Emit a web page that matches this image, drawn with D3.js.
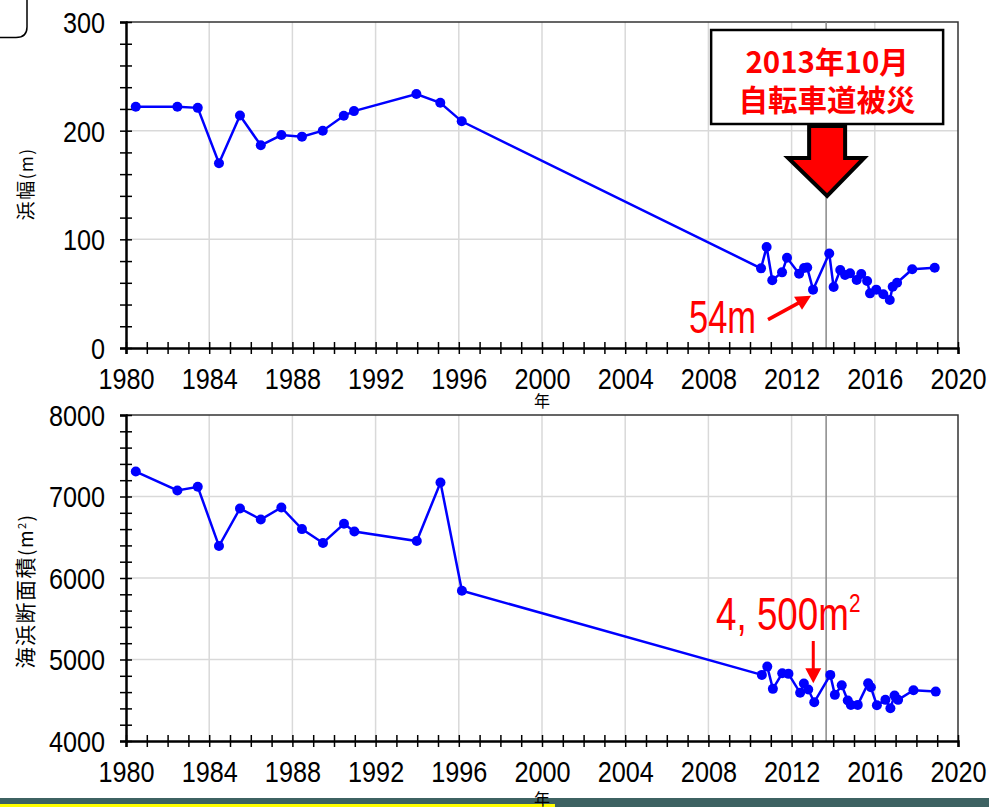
<!DOCTYPE html>
<html>
<head>
<meta charset="utf-8">
<script src="https://cdn.jsdelivr.net/npm/d3@7"></script>
<style>
  body { margin: 0; background: #fff; }
  svg { display: block; }
  .num { font-family: "Liberation Sans", Arial, sans-serif; }
  .jp { font-family: "Noto Sans CJK JP", "Noto Sans", sans-serif; }
</style>
</head>
<body>
<svg id="chart" width="989" height="807"></svg>
<script>
'use strict';

// survey dates (decimal years) and beach width (m)
var widthYears = [1980.47, 1982.47, 1983.45, 1984.47, 1985.48, 1986.48, 1987.47, 1988.46, 1989.46,
  1990.47, 1990.96, 1993.96, 1995.11, 1996.14,
  2010.53, 2010.8, 2011.07, 2011.54, 2011.78, 2012.36, 2012.6, 2012.75, 2013.03, 2013.81,
  2014.02, 2014.34, 2014.57, 2014.81, 2015.13, 2015.35, 2015.63, 2015.77, 2016.07, 2016.41,
  2016.72, 2016.86, 2017.07, 2017.8, 2018.88];
var widthValues = [222, 222, 221, 170, 214, 186.5, 196, 194.5, 200,
  213.7, 218, 233.7, 225.7, 208.6,
  73.3, 93, 62.3, 69.6, 83, 68.4, 73.6, 74, 53.7, 87,
  56.1, 71.8, 67.2, 68.7, 62.6, 68.1, 61.6, 50.3, 53.7, 49.4,
  44.2, 56.4, 60.1, 72.4, 73.9];

// survey dates and beach cross-section area (m2)
var areaYears = [1980.47, 1982.47, 1983.45, 1984.47, 1985.48, 1986.48, 1987.47, 1988.46, 1989.47,
  1990.48, 1990.98, 1993.98, 1995.12, 1996.15,
  2010.57, 2010.83, 2011.1, 2011.55, 2011.85, 2012.41, 2012.59, 2012.8, 2013.09, 2013.86,
  2014.08, 2014.41, 2014.7, 2014.85, 2015.18, 2015.68, 2015.81, 2016.1, 2016.51, 2016.75,
  2016.95, 2017.12, 2017.86, 2018.93];
var areaValues = [7306, 7074, 7119, 6392, 6853, 6718, 6865, 6600, 6429,
  6665, 6571, 6453, 7172, 5844,
  4811, 4913, 4640, 4831, 4824, 4591, 4705, 4631, 4476, 4811,
  4566, 4684, 4496, 4443, 4443, 4708, 4659, 4439, 4505, 4402,
  4557, 4505, 4622, 4606];

var xLabels = d3.range(1980, 2021, 4);
var eventYear = 2013.66;
var eventText = ['2013年10月', '自転車道被災'];

var svg = d3.select('#chart');
var squeeze = 0.87; // narrow the tick digits

var x = d3.scaleLinear().domain([1980, 2020]).range([126, 958]);

var panels = [
  {years: widthYears, values: widthValues, domain: [0, 300], top: 22, bottom: 348,
   minor: 20, major: 100, title: ['浜幅', '(m)'], titleY: 184, titleSize: 19, yearY: 59},
  {years: areaYears, values: areaValues, domain: [4000, 8000], top: 415, bottom: 741,
   minor: 200, major: 1000, title: ['海浜断面積', '(m', '2', ')'], titleY: 591, titleSize: 21, yearY: 64}
];

// page strip at bottom (drawn first, the year label sits over it)
svg.append('rect')
  .attr('x', 0).attr('y', 798).attr('width', 989).attr('height', 9)
  .style('fill', '#3d6262');
svg.append('rect')
  .attr('x', 0).attr('y', 804).attr('width', 555).attr('height', 3)
  .style('fill', '#ffff00');

panels.forEach(function(p) {
  var y = d3.scaleLinear().domain(p.domain).range([p.bottom, p.top]);
  p.y = y;
  var g = svg.append('g');

  // grid
  g.selectAll('line.vg')
    .data(xLabels.slice(1, -1))
    .enter().append('line')
    .attr('x1', function(d) { return x(d); })
    .attr('x2', function(d) { return x(d); })
    .attr('y1', p.top).attr('y2', p.bottom)
    .style('stroke', '#d9d9d9').style('stroke-width', 1.5);

  g.selectAll('line.hg')
    .data(d3.range(p.domain[0] + p.major, p.domain[1], p.major))
    .enter().append('line')
    .attr('x1', x.range()[0]).attr('x2', x.range()[1])
    .attr('y1', function(d) { return y(d); })
    .attr('y2', function(d) { return y(d); })
    .style('stroke', '#d9d9d9').style('stroke-width', 1.5);

  // frame top/right
  g.append('path')
    .attr('d', 'M' + x.range()[0] + ',' + p.top + 'H' + x.range()[1] + 'V' + p.bottom)
    .style('fill', 'none').style('stroke', '#333').style('stroke-width', 1.5);

  // event line
  g.append('line')
    .attr('x1', x(eventYear)).attr('x2', x(eventYear))
    .attr('y1', p.top).attr('y2', p.bottom)
    .style('stroke', '#888').style('stroke-width', 1.5);

  // x axis
  var xAxis = d3.axisBottom(x)
    .tickValues(d3.range(1980, 2021))
    .tickSize(6)
    .tickFormat(function(d) { return d % 4 ? '' : d; });
  var gx = g.append('g')
    .attr('transform', 'translate(0,' + p.bottom + ')')
    .call(xAxis);
  gx.select('.domain').style('stroke', '#000').style('stroke-width', 2.5);
  gx.selectAll('.tick line').attr('y1', -6).attr('y2', 6).style('stroke', '#000').style('stroke-width', 1.5);
  gx.selectAll('.tick text')
    .attr('class', 'num')
    .attr('y', 41).attr('dy', 0)
    .attr('transform', 'scale(' + squeeze + ',1)')
    .style('font-size', '29px').style('fill', '#000');

  // y axis
  var yAxis = d3.axisLeft(y)
    .tickValues(d3.range(p.domain[0], p.domain[1] + 1, p.minor))
    .tickSize(6)
    .tickFormat(function(d) { return d % p.major ? '' : d; });
  var gy = g.append('g')
    .attr('transform', 'translate(' + x.range()[0] + ',0)')
    .call(yAxis);
  gy.select('.domain').style('stroke', '#000').style('stroke-width', 2.5);
  gy.selectAll('.tick line').attr('x1', -6).attr('x2', 6).style('stroke', '#000').style('stroke-width', 1.5);
  gy.selectAll('.tick text')
    .attr('class', 'num')
    .attr('x', -21 / squeeze).attr('dy', '0.36em')
    .attr('transform', 'scale(' + squeeze + ',1)')
    .style('font-size', '29px').style('fill', '#000');

  // x title
  g.append('text')
    .attr('class', 'jp')
    .attr('x', 542).attr('y', p.bottom + p.yearY)
    .attr('text-anchor', 'middle')
    .style('font-size', '16px')
    .text('年');

  // y title
  var t = g.append('text')
    .attr('class', 'jp')
    .attr('transform', 'translate(33,' + p.titleY + ') rotate(-90)')
    .attr('text-anchor', 'middle')
    .style('font-size', p.titleSize + 'px')
    .style('letter-spacing', '1.5px');
  t.append('tspan').text(p.title[0]);
  t.append('tspan').style('font-size', (p.titleSize - 2) + 'px').text(p.title[1]);
  if (p.title.length > 2) {
    t.append('tspan').attr('dy', -7).style('font-size', '11px').text(p.title[2]);
    t.append('tspan').attr('dy', 7).style('font-size', (p.titleSize - 2) + 'px').text(p.title[3]);
  }

  // series
  var line = d3.line()
    .x(function(d, i) { return x(p.years[i]); })
    .y(function(d) { return y(d); });
  g.append('path')
    .datum(p.values)
    .attr('d', line)
    .style('fill', 'none').style('stroke', '#0000ff').style('stroke-width', 2.5);
  g.selectAll('circle')
    .data(p.values)
    .enter().append('circle')
    .attr('cx', function(d, i) { return x(p.years[i]); })
    .attr('cy', function(d) { return y(d); })
    .attr('r', 5)
    .style('fill', '#0000ff');
});

// event box and big arrow
var ex = x(eventYear) + 1;
var box = svg.append('g');
box.append('rect')
  .attr('x', ex - 116).attr('y', 30).attr('width', 232).attr('height', 94)
  .style('fill', '#fff').style('stroke', '#000').style('stroke-width', 2.5);
eventText.forEach(function(s, i) {
  box.append('text')
    .attr('class', 'jp')
    .attr('x', ex).attr('y', 73 + i * 38)
    .attr('text-anchor', 'middle')
    .style('font-size', '29.5px').style('font-weight', 'bold').style('fill', '#ff0000')
    .text(s);
});
box.append('path')
  .attr('d', 'M' + (ex - 18) + ',126 H' + (ex + 18) + ' V158 H' + (ex + 37) +
    ' L' + ex + ',196 L' + (ex - 39) + ',158 H' + (ex - 18) + 'Z')
  .style('fill', '#ff0000').style('stroke', '#000').style('stroke-width', 4)
  .style('stroke-linejoin', 'miter');

// minimum width callout
var wi = widthValues.indexOf(53.7);
var px = x(widthYears[wi]), py = panels[0].y(widthValues[wi]);
svg.append('text')
  .attr('class', 'num')
  .attr('transform', 'translate(689,333) scale(0.75,1)')
  .style('font-size', '46px').style('fill', '#ff0000')
  .text('54m');
var tipX = px - 2, tipY = py + 6;
svg.append('line')
  .attr('x1', tipX - 43).attr('y1', tipY + 24).attr('x2', tipX - 10).attr('y2', tipY + 6)
  .style('stroke', '#ff0000').style('stroke-width', 3.5);
svg.append('path')
  .attr('d', 'M' + tipX + ',' + tipY + ' L' + (tipX - 17) + ',' + (tipY + 1) +
    ' L' + (tipX - 9) + ',' + (tipY + 14) + 'Z')
  .style('fill', '#ff0000');

// minimum area callout
var ai = areaValues.indexOf(4476);
var ax = x(areaYears[ai]) - 1, ay = panels[1].y(areaValues[ai]) - 19;
var at = svg.append('text')
  .attr('class', 'num')
  .attr('transform', 'translate(716,630) scale(0.8,1)')
  .style('font-size', '46px').style('fill', '#ff0000');
at.append('tspan').text('4, 500m');
at.append('tspan').attr('dy', -18).style('font-size', '26px').text('2');
svg.append('line')
  .attr('x1', ax).attr('x2', ax).attr('y1', 641).attr('y2', ay - 12)
  .style('stroke', '#ff0000').style('stroke-width', 3);
svg.append('path')
  .attr('d', 'M' + ax + ',' + ay + ' L' + (ax - 8) + ',' + (ay - 15) + ' L' + (ax + 8) + ',' + (ay - 15) + 'Z')
  .style('fill', '#ff0000');

// page decoration, top left
svg.append('path')
  .attr('d', 'M27,0 V27 Q27,37.5 16,37.5 H0')
  .style('fill', 'none').style('stroke', '#000').style('stroke-width', 1.5);
</script>
</body>
</html>
